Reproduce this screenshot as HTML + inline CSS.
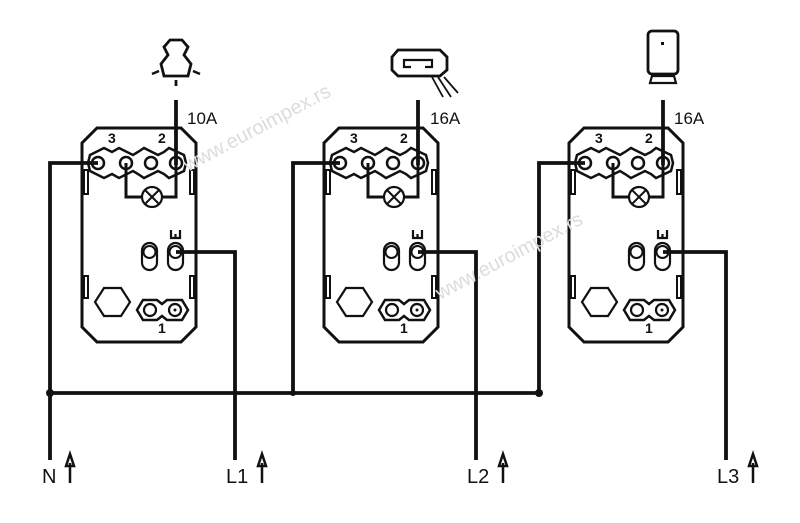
<!DOCTYPE html>
<html><head><meta charset="utf-8"><style>
html,body{margin:0;padding:0;background:#fff;}
svg{display:block;}
text{font-family:"Liberation Sans",sans-serif;fill:#111;}
</style></head><body>
<svg width="800" height="523" viewBox="0 0 800 523" xmlns="http://www.w3.org/2000/svg">
<defs>
<g id="unit" fill="none" stroke="#111">
  <path d="M97,128 L181,128 L196,143 L196,327 L181,342 L97,342 L82,327 L82,143 Z" stroke-width="3"/>
  <rect x="84" y="170" width="4" height="24" stroke-width="2"/>
  <rect x="190" y="170" width="4" height="24" stroke-width="2"/>
  <rect x="84" y="276" width="4" height="22" stroke-width="2"/>
  <rect x="190" y="276" width="4" height="22" stroke-width="2"/>
  <path d="M90,155 L104,148 L112,152 L119,148 L133,155 L138,152 L144,148 L158,155 L164,152 L169,148 L184,155 L186,163 L184,171 L169,178 L164,174 L158,171 L144,178 L138,174 L133,171 L119,178 L112,174 L104,178 L90,171 L88,163 Z" stroke-width="2.5"/>
  <circle cx="98" cy="163" r="6" stroke-width="2.5"/>
  <circle cx="126" cy="163" r="6" stroke-width="2.5"/>
  <circle cx="151" cy="163" r="6" stroke-width="2.5"/>
  <circle cx="176" cy="163" r="6" stroke-width="2.5"/>
  <circle cx="152" cy="197" r="10" stroke-width="2.2"/>
  <path d="M145,190 L159,204 M159,190 L145,204" stroke-width="2"/>
  <path d="M126,163 L126,197 L142,197 M162,197 L176,197 L176,163" stroke-width="3"/>
  <rect x="142" y="243" width="15" height="27" rx="7.5" stroke-width="2.2"/>
  <circle cx="149.5" cy="252" r="6" stroke-width="2"/>
  <rect x="168" y="243" width="15" height="27" rx="7.5" stroke-width="2.2"/>
  <circle cx="175.5" cy="252" r="6" stroke-width="2"/>
  <path d="M171,230 L171,238 L180,238 L180,230 M175.5,234 L175.5,238" stroke-width="2.2"/>
  <path d="M104,288 L121,288 L130,302 L121,316 L104,316 L95,302 Z" stroke-width="2.2"/>
  <path d="M143,300 L157,300 L162,304 L167,300 L182,300 L188,310 L182,320 L167,320 L162,316 L157,320 L143,320 L137,310 Z" stroke-width="2.5"/>
  <circle cx="150" cy="310" r="6" stroke-width="2.2"/>
  <circle cx="175" cy="310" r="6" stroke-width="2.2"/>
  <circle cx="175" cy="310" r="1" fill="#111"/>
</g>
</defs>

<g transform="translate(0,0)"><use href="#unit"/></g>
<g transform="translate(242,0)"><use href="#unit"/></g>
<g transform="translate(487,0)"><use href="#unit"/></g>

<g font-weight="bold" font-size="14">
<text x="108" y="143">3</text><text x="158" y="143">2</text><text x="158" y="333">1</text>
<text x="350" y="143">3</text><text x="400" y="143">2</text><text x="400" y="333">1</text>
<text x="595" y="143">3</text><text x="645" y="143">2</text><text x="645" y="333">1</text>
</g>

<g fill="none" stroke="#111" stroke-width="3.8">
  <path d="M176,100 L176,165"/>
  <path d="M418,100 L418,165"/>
  <path d="M663,100 L663,165"/>
  <path d="M98,163 L50,163 L50,460"/>
  <path d="M340,163 L293,163 L293,393"/>
  <path d="M585,163 L539,163 L539,393"/>
  <path d="M50,393 L539,393"/>
  <path d="M176,252 L235,252 L235,460"/>
  <path d="M418,252 L476,252 L476,460"/>
  <path d="M663,252 L726,252 L726,460"/>
</g>
<circle cx="50" cy="393" r="4" fill="#111"/>
<circle cx="293" cy="393" r="3" fill="#111"/>
<circle cx="539" cy="393" r="4" fill="#111"/>

<g font-size="20">
<text x="42" y="483">N</text>
<text x="226" y="483">L1</text>
<text x="467" y="483">L2</text>
<text x="717" y="483">L3</text>
</g>
<g fill="none" stroke="#111" stroke-width="2.5">
  <path d="M70,483 L70,463 M66,466 L70,454 L74,466 Z"/>
  <path d="M262,483 L262,463 M258,466 L262,454 L266,466 Z"/>
  <path d="M503,483 L503,463 M499,466 L503,454 L507,466 Z"/>
  <path d="M753,483 L753,463 M749,466 L753,454 L757,466 Z"/>
</g>

<g font-size="17">
<text x="187" y="124">10A</text>
<text x="430" y="124">16A</text>
<text x="674" y="124">16A</text>
</g>

<g fill="none" stroke="#111" stroke-width="2.8">
  <path d="M170,40 L164,47 L168,55 L161,64 L164,76 L188,76 L191,64 L184,55 L188,47 L182,40 Z"/>
  <path d="M176,80 L176,86"/>
  <path d="M152,74 L159,71 M200,74 L193,71" stroke-width="2.5"/>
</g>
<g fill="none" stroke="#111" stroke-width="2.8">
  <path d="M398,50 L440,50 L447,57 L447,70 L440,76 L398,76 L392,70 L392,57 Z"/>
  <path d="M411,67 L404,67 L404,60 L432,60 L432,67 L425,67" stroke-width="2.2"/>
  <path d="M432,77 L443,97 M438,77 L451,97 M444,77 L458,93" stroke-width="1.8"/>
</g>
<g fill="none" stroke="#111" stroke-width="2.8">
  <rect x="648" y="31" width="30" height="43" rx="4"/>
  <rect x="661" y="42" width="3" height="3" fill="#111" stroke="none"/>
  <path d="M652,76 L674,76 L676,83 L650,83 Z" stroke-width="2.2"/>
</g>

<g font-size="20">
<text x="0" y="0" transform="translate(188,172) rotate(-28)" style="fill:#dcdcdc">www.euroimpex.rs</text>
<text x="0" y="0" transform="translate(440,300) rotate(-28)" style="fill:#dcdcdc">www.euroimpex.rs</text>
</g>
</svg>
</body></html>
